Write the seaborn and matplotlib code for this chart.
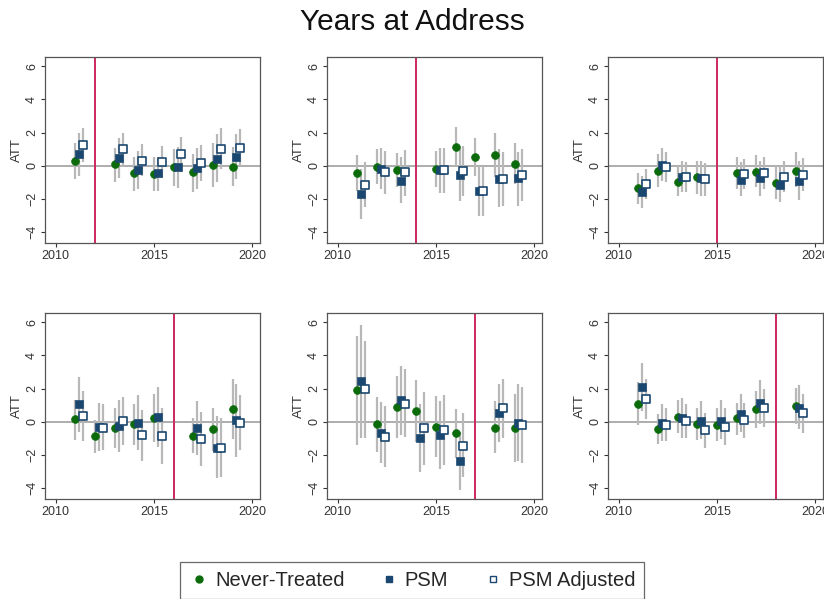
import numpy as np
import pandas as pd
import matplotlib
matplotlib.use("Agg")
import matplotlib.pyplot as plt
import seaborn as sns

sns.set_theme(style="white")
plt.rcParams['font.family'] = ['Liberation Sans', 'DejaVu Sans']

title = "Years at Address"
series_names = ["Never-Treated", "PSM", "PSM Adjusted"]
treat_years = [2012, 2014, 2015, 2016, 2017, 2018]
all_years = [2011, 2012, 2013, 2014, 2015, 2016, 2017, 2018, 2019]

# ---- estimates (per panel, per series) ----
nt_est = [
    [0.3, 0.1, -0.45, -0.5, -0.1, -0.4, 0.05, -0.05],
    [-0.45, -0.05, -0.25, -0.2, 1.15, 0.5, 0.65, 0.1],
    [-1.35, -0.3, -0.95, -0.7, -0.45, -0.35, -1.05, -0.3],
    [0.15, -0.85, -0.4, -0.15, 0.25, -0.85, -0.45, 0.75],
    [1.9, -0.15, 0.9, 0.65, -0.3, -0.7, -0.35, -0.4],
    [1.1, -0.45, 0.3, -0.15, -0.2, 0.2, 0.75, 0.95],
]
psm_est = [
    [0.7, 0.45, -0.25, -0.45, -0.1, -0.15, 0.4, 0.55],
    [-1.7, -0.2, -0.9, -0.25, -0.55, -1.5, -0.8, -0.75],
    [-1.6, 0.05, -0.65, -0.75, -0.85, -0.75, -1.15, -0.9],
    [1.05, -0.3, -0.25, -0.05, 0.3, -0.4, -1.55, 0.1],
    [2.45, -0.65, 1.3, -1.0, -0.8, -2.35, 0.5, -0.1],
    [2.1, -0.05, 0.2, 0.05, 0.05, 0.45, 1.15, 0.85],
]
adj_est = [
    [1.25, 1.0, 0.3, 0.2, 0.7, 0.15, 1.0, 1.1],
    [-1.15, -0.4, -0.4, -0.25, -0.3, -1.5, -0.8, -0.55],
    [-1.1, -0.1, -0.65, -0.8, -0.5, -0.45, -0.65, -0.55],
    [0.35, -0.35, 0.05, -0.8, -0.85, -1.05, -1.6, -0.05],
    [1.95, -0.9, 1.1, -0.4, -0.5, -1.45, 0.8, -0.2],
    [1.35, -0.2, 0.05, -0.5, -0.3, 0.1, 0.8, 0.5],
]

# ---- confidence intervals: lower / upper ----
nt_lo = [
    [-0.8, -1.0, -1.5, -1.5, -1.2, -1.6, -1.3, -1.2],
    [-1.5, -1.1, -1.3, -1.3, 0.0, -0.6, -0.7, -1.1],
    [-2.3, -1.3, -1.8, -1.7, -1.4, -1.3, -2.0, -1.3],
    [-1.1, -1.85, -1.6, -1.4, -1.2, -1.9, -1.75, -1.05],
    [-1.4, -1.8, -0.95, -1.2, -2.15, -2.2, -1.9, -2.45],
    [-0.2, -1.35, -0.7, -1.1, -1.15, -0.8, -0.35, -0.15],
]
nt_hi = [
    [1.4, 1.1, 0.55, 0.5, 1.0, 0.7, 1.4, 1.15],
    [0.65, 1.0, 0.75, 0.9, 2.35, 1.65, 2.0, 1.4],
    [-0.45, 0.7, 0.0, 0.3, 0.5, 0.65, 0.0, 0.8],
    [1.3, 0.1, 0.8, 1.1, 1.7, 0.2, 0.85, 2.55],
    [5.15, 1.5, 2.75, 2.5, 1.55, 0.75, 1.25, 1.7],
    [2.4, 0.45, 1.3, 0.8, 0.8, 1.15, 1.85, 2.05],
]
psm_lo = [
    [-0.6, -0.75, -1.4, -1.5, -1.35, -1.4, -1.0, -0.8],
    [-3.2, -1.4, -2.25, -1.65, -2.1, -3.05, -2.5, -2.4],
    [-2.55, -0.9, -1.6, -1.8, -1.85, -1.8, -2.2, -2.05],
    [-0.6, -1.75, -1.8, -1.7, -1.5, -2.0, -3.4, -2.15],
    [-0.95, -2.5, -0.8, -3.0, -2.85, -4.1, -1.2, -2.35],
    [0.65, -1.15, -0.95, -1.05, -1.05, -0.6, -0.15, -0.45],
]
psm_hi = [
    [2.0, 1.65, 0.9, 0.5, 1.15, 1.1, 1.9, 1.9],
    [-0.2, 1.1, 0.5, 1.1, 1.0, 0.0, 1.0, 0.85],
    [-0.6, 1.1, 0.3, 0.3, 0.2, 0.3, 0.0, 0.3],
    [2.7, 1.15, 1.3, 1.6, 2.1, 1.25, 0.35, 2.3],
    [5.85, 1.2, 3.35, 1.05, 1.25, -0.6, 2.3, 2.25],
    [3.55, 1.1, 1.45, 1.25, 1.3, 1.65, 2.5, 2.2],
]
adj_lo = [
    [0.2, -0.1, -0.6, -0.75, -0.4, -0.9, -0.2, 0.0],
    [-2.5, -1.7, -1.8, -1.65, -1.8, -3.0, -2.4, -2.1],
    [-2.0, -1.0, -1.55, -1.8, -1.4, -1.4, -1.6, -1.5],
    [-1.15, -1.7, -1.4, -2.35, -2.55, -2.65, -3.35, -1.7],
    [-0.95, -2.75, -0.9, -2.6, -2.6, -3.35, -0.95, -2.5],
    [0.15, -1.15, -0.95, -1.6, -1.4, -1.0, -0.3, -0.7],
]
adj_hi = [
    [2.3, 2.0, 1.3, 1.2, 1.75, 1.25, 2.25, 2.2],
    [0.25, 0.9, 0.95, 1.1, 1.2, 0.0, 0.8, 1.0],
    [-0.2, 0.85, 0.2, 0.15, 0.4, 0.5, 0.3, 0.45],
    [1.85, 1.05, 1.5, 0.7, 0.85, 0.6, 0.2, 1.6],
    [4.85, 0.95, 3.15, 1.8, 1.6, 0.5, 2.6, 2.1],
    [2.55, 0.8, 1.1, 0.55, 0.8, 1.15, 1.95, 1.7],
]

green = "#0b6b0b"
navy = "#1a476f"
ci_col = "#b8b8b8"
vcol = "#cc2860"
offsets = [0.0, 0.2, 0.4]

fig = plt.figure(figsize=(8.24, 5.99), dpi=100)
fig.patch.set_facecolor("white")

W, H = 824, 599
lefts = [45, 327, 608]
tops = [57, 313]
pw, ph = 215, 186

est_all = [nt_est, psm_est, adj_est]
lo_all = [nt_lo, psm_lo, adj_lo]
hi_all = [nt_hi, psm_hi, adj_hi]

for p in range(6):
    r, c = divmod(p, 3)
    ax = fig.add_axes([lefts[c] / W, 1 - (tops[r] + ph) / H, pw / W, ph / H])
    years = [y for y in all_years if y != treat_years[p]]
    rows = []
    for s in range(3):
        for i, y in enumerate(years):
            rows.append(dict(series=series_names[s], x=y + offsets[s],
                             est=est_all[s][p][i], lo=lo_all[s][p][i], hi=hi_all[s][p][i]))
    df = pd.DataFrame(rows)
    ax.axhline(0, color="#a0a0a0", lw=1.2, zorder=1)
    ax.axvline(treat_years[p], color=vcol, lw=1.4, zorder=1)
    ax.vlines(df["x"], df["lo"], df["hi"], color=ci_col, lw=1.6, zorder=2)
    d0 = df[df.series == series_names[0]]
    d1 = df[df.series == series_names[1]]
    d2 = df[df.series == series_names[2]]
    sns.scatterplot(data=d0, x="x", y="est", ax=ax, marker="o", color=green,
                    edgecolor=green, s=32, zorder=3, legend=False)
    sns.scatterplot(data=d1, x="x", y="est", ax=ax, marker="s", color=navy,
                    edgecolor=navy, s=34, zorder=3, legend=False)
    sns.scatterplot(data=d2, x="x", y="est", ax=ax, marker="s", color="white",
                    edgecolor=navy, linewidth=1.2, s=30, zorder=3, legend=False)
    ax.set_xlim(2009.45, 2020.4)
    ax.set_ylim(-4.65, 6.55)
    ax.set_xticks([2010, 2015, 2020])
    ax.set_yticks([-4, -2, 0, 2, 4, 6])
    ax.set_xlabel("")
    ax.set_ylabel("ATT", fontsize=9.5, color="#333333", labelpad=2)
    ax.tick_params(axis="both", direction="out", length=3, width=0.8,
                   color="#333333", labelsize=9, labelcolor="#333333", pad=2,
                   bottom=True, left=True)
    for lab in ax.get_yticklabels():
        lab.set_rotation(90)
        lab.set_va("center")
    for sp in ax.spines.values():
        sp.set_color("#555555")
        sp.set_linewidth(0.9)

fig.text(0.5, 1 - 22 / H, title, ha="center", va="center", fontsize=21.5, color="#111111")

from matplotlib.lines import Line2D
handles = [
    Line2D([], [], ls="none", marker="o", color=green, markersize=5),
    Line2D([], [], ls="none", marker="s", color=navy, markersize=5),
    Line2D([], [], ls="none", marker="s", markerfacecolor="white",
           markeredgecolor=navy, markeredgewidth=1.0, markersize=5),
]
leg = fig.legend(handles, series_names, loc="upper center",
                 bbox_to_anchor=(0.5, 1 - 562 / H), borderaxespad=0, ncol=3,
                 fontsize=14.5, frameon=True, fancybox=False, edgecolor="#444444",
                 handletextpad=0.3, columnspacing=1.7, handlelength=1.0,
                 borderpad=0.45)
leg.get_frame().set_linewidth(0.9)

fig.savefig("out.png", dpi=100, facecolor="white")
